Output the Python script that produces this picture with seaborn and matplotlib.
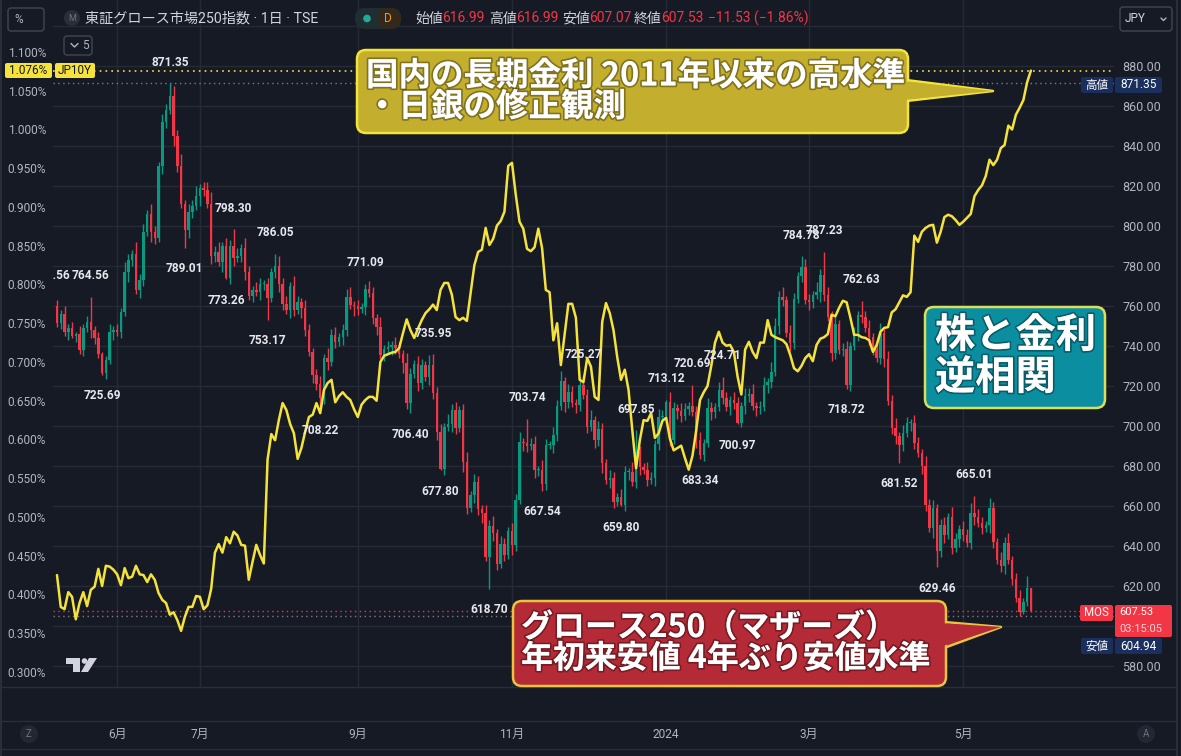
import numpy as np
import pandas as pd
import matplotlib
matplotlib.use("Agg")
import matplotlib.pyplot as plt
import matplotlib.patheffects as pe
import matplotlib.transforms as mtransforms
from matplotlib.patches import FancyBboxPatch, Polygon, Circle
from matplotlib.ticker import StrMethodFormatter, FuncFormatter
import seaborn as sns

W, H = 1181, 756
BG = "#161a25"
GRID = "#262a35"
LINE = "#2a2e39"
TXT = "#b2b5be"
UP = "#089981"
DOWN = "#f23645"
YEL = "#f5e33b"
NAVY = "#1b2f5e"

# ---- data: TSE Growth 250 daily closes ----
jp_holidays = ["2023-07-17", "2023-08-11", "2023-09-18", "2023-10-09", "2023-11-03",
               "2023-11-23", "2024-01-01", "2024-01-02", "2024-01-03", "2024-01-08",
               "2024-02-12", "2024-02-23", "2024-03-20", "2024-04-29", "2024-05-03",
               "2024-05-06"]
first_open = 760.0
close_2305 = [751.7, 756, 747, 749, 745, 746, 738, 749, 752, 748, 744, 736, 726.5, 733, 747, 748]
close_2306 = [747, 757, 777, 783, 786, 768, 773, 797, 806, 797, 794, 830, 852, 858, 865, 845,
              830, 811, 798, 807, 810, 815]
close_2307 = [819, 818, 811, 785, 787, 782, 790, 774, 790, 784, 785, 789, 777, 765, 768, 767,
              771, 771, 764, 777]
close_2308 = [780, 771, 761, 758, 770, 758, 762, 759, 748, 737, 725.5, 721, 714, 734, 732, 745.5,
              742, 744.5, 748, 764.7, 760.5, 760]
close_2309 = [758.3, 759.3, 768.3, 766.3, 753.8, 749.3, 735.5, 738.5, 739.5, 740.5, 739, 736,
              731.3, 711.3, 726, 731, 721.3, 730.5, 724.3, 730.3]
close_2310 = [716.3, 697.2, 678.5, 699.7, 700.8, 708, 698.8, 708, 682.2, 658.8, 665.5, 672.2,
              658.3, 656.3, 634.3, 650, 646.3, 631, 641, 635.5, 647.7]
close_2311 = [640.5, 663, 692.2, 691.5, 690, 691, 678, 678, 671, 690.5, 690.5, 695.5, 710,
              722.7, 712.2, 717, 711.3, 710.5, 720.5, 715.5]
close_2312 = [699.7, 703, 693, 698.3, 681.3, 673, 673.8, 662.2, 664.3, 660.5, 677, 677, 672,
              687, 679.7, 678, 673, 673.8, 691, 704.3, 705]
close_2401 = [712.2, 693, 708.8, 707.7, 705, 708.3, 710, 707.2, 693, 685.7, 691.3, 708.8, 707.2,
              709.3, 718, 713.8, 709.7, 712.8, 711.3]
close_2402 = [701.3, 710, 715, 716, 710, 709, 709.5, 720.5, 722, 727, 750, 764.7, 763, 746.3,
              741.3, 763.3, 775, 779.7, 763]
close_2403 = [762.2, 765.5, 767.2, 775.5, 765.5, 754.7, 736.3, 751, 738, 738.5, 720.5, 740,
              746.3, 755.5, 754.7, 748.8, 744.3, 738.3, 733.8, 746.3]
close_2404 = [733.3, 712.7, 699, 695, 690.5, 696.7, 701.3, 701.3, 691.5, 686.3, 680, 660.5,
              648.8, 658.8, 637.7, 650.5, 645.5, 654.7, 638.8, 643.3, 648.3]
close_2405 = [645.5, 641.7, 656.3, 654.3, 651.3, 649, 650.5, 658.8, 642.2, 633, 630.2, 641.3,
              633, 623.3, 613.8, 607, 612, 619.06, 607.53]

# wick lengths above / below the body
wick_up = [3, 2, 4, 2, 3, 1, 4, 2, 3, 0, 2, 3, 1, 2, 4, 2, 3, 2, 5, 3,
           2, 6, 3, 4, 2, 5, 3, 2, 4, 3, 0, 5, 3, 6, 2, 4, 3, 5, 2, 3,
           4, 6, 3, 5, 2, 4, 3, 0, 4, 2, 5, 3, 2, 4, 3, 2, 3, 2, 0, 5,
           3, 4, 2, 5, 3, 2, 4, 3, 2, 3, 4, 2, 5, 3, 4, 2, 3, 4, 5, 2,
           3, 2, 0, 4, 3, 2, 5, 2, 3, 2, 4, 3, 2, 5, 3, 2, 4, 3, 2, 5,
           0, 3, 4, 2, 5, 3, 4, 2, 3, 5, 2, 4, 3, 2, 4, 3, 5, 2, 4, 3,
           2, 4, 3, 5, 2, 0, 3, 4, 2, 5, 3, 2, 4, 3, 5, 2, 4, 3, 2, 4,
           0, 3, 5, 2, 4, 3, 2, 4, 3, 2, 4, 3, 2, 5, 0, 3, 2, 4, 3, 2,
           4, 3, 0, 5, 3, 2, 4, 3, 2, 0, 3, 4, 2, 5, 3, 2, 4, 0, 3, 2,
           4, 3, 2, 4, 3, 5, 2, 3, 4, 2, 5, 4, 3, 5, 2, 4, 3, 2, 0, 4,
           3, 2, 5, 3, 0, 4, 3, 5, 2, 3, 4, 2, 3, 2, 0, 3, 4, 2, 3, 5,
           2, 4, 3, 5, 2, 4, 3, 2, 4, 3, 2, 5, 3, 4, 2, 3, 4, 2, 5, 3,
           2, 4, 3, 5, 0, 4, 3, 2, 5, 3, 2, 4, 3, 5, 2, 3, 4, 2, 6, 0]
wick_dn = [2, 3, 2, 4, 1, 3, 2, 3, 2, 4, 3, 2, 0, 3, 2, 4, 2, 3, 2, 5,
           3, 2, 4, 3, 2, 5, 3, 2, 4, 3, 2, 5, 3, 2, 0, 4, 3, 2, 5, 3,
           2, 4, 3, 2, 5, 0, 3, 4, 2, 3, 4, 2, 3, 2, 4, 3, 0, 2, 3, 4,
           3, 2, 4, 3, 2, 5, 3, 2, 4, 3, 0, 3, 4, 2, 3, 2, 4, 3, 2, 5,
           3, 2, 4, 2, 3, 4, 2, 3, 2, 4, 3, 2, 5, 3, 0, 2, 4, 3, 2, 4,
           3, 4, 0, 3, 2, 4, 3, 2, 5, 3, 2, 4, 3, 5, 2, 0, 4, 3, 2, 3,
           2, 5, 3, 2, 4, 3, 2, 4, 3, 0, 3, 2, 4, 3, 2, 5, 3, 2, 4, 3,
           2, 3, 2, 4, 3, 5, 2, 4, 3, 2, 0, 3, 4, 2, 3, 4, 2, 3, 2, 4,
           3, 2, 4, 3, 2, 4, 3, 2, 3, 2, 4, 0, 3, 2, 4, 3, 2, 3, 2, 4,
           3, 0, 2, 4, 3, 2, 4, 3, 2, 4, 3, 2, 4, 3, 2, 4, 3, 2, 3, 2,
           4, 3, 2, 5, 3, 2, 4, 3, 2, 3, 0, 3, 2, 4, 3, 2, 4, 3, 2, 3,
           4, 2, 3, 4, 0, 3, 2, 4, 3, 2, 4, 3, 2, 5, 0, 3, 4, 2, 3, 2,
           4, 3, 2, 3, 4, 2, 3, 2, 4, 3, 2, 3, 4, 2, 3, 2, 2.06, 1, 2, 0.46]

# high / low pivot labels shown on the chart (index, value, kind)
pivot_idx = [-1.4, 9, 12, 30, 34, 45, 47, 56, 58, 70, 82, 94, 100, 102, 115, 125, 129, 140,
             150, 154, 162, 169, 171, 177, 181, 198, 204, 210, 214, 224, 234, 244]
pivot_val = [764.56, 764.56, 725.69, 871.35, 789.01, 773.26, 798.30, 753.17, 786.05, 708.22,
             771.09, 706.40, 735.95, 677.80, 618.70, 703.74, 667.54, 725.27, 659.80, 697.85,
             713.12, 720.69, 683.34, 724.71, 700.97, 784.78, 787.23, 718.72, 762.63, 681.52,
             629.46, 665.01]
pivot_kind = ["H", "H", "L", "H", "L", "L", "H", "L", "H", "L", "H", "L", "H", "L", "L", "H",
              "L", "H", "L", "H", "H", "H", "L", "H", "L", "H", "H", "L", "H", "L", "L", "H"]

# JP10Y yield, %
jp10y_2305 = [.425, .384, .381, .403, .397, .368, .389, .403, .385, .406, .410, .433, .411, .437, .436, .432]
jp10y_2306 = [.426, .412, .434, .421, .423, .437, .426, .425, .416, .426, .419, .402, .393, .389,
              .374, .377, .367, .353, .371, .384, .384, .398]
jp10y_2307 = [.397, .381, .386, .407, .454, .465, .454, .474, .466, .481, .476, .464, .463, .419,
              .442, .464, .451, .440, .574, .607]
jp10y_2308 = [.599, .625, .647, .638, .620, .608, .575, .589, .610, .629, .632, .647, .634, .664,
              .673, .677, .648, .656, .661, .655, .651, .639]
jp10y_2309 = [.629, .645, .651, .655, .655, .650, .700, .708, .710, .712, .713, .718, .737, .755,
              .741, .731, .743, .754, .763, .768]
jp10y_2310 = [.774, .767, .793, .802, .802, .787, .758, .754, .757, .753, .789, .825, .842, .845,
              .873, .851, .859, .876, .882, .894, .953]
jp10y_2311 = [.957, .916, .881, .872, .846, .843, .848, .872, .847, .793, .790, .728, .750, .696,
              .735, .775, .775, .757, .677, .674]
jp10y_2312 = [.705, .694, .655, .651, .752, .776, .763, .741, .706, .677, .690, .664, .612, .563,
              .599, .625, .624, .634, .602, .608, .624]
jp10y_2401 = [.628, .601, .586, .589, .592, .576, .561, .579, .612, .651, .661, .669, .695, .725,
              .739, .725, .721, .722, .713]
jp10y_2402 = [.681, .658, .716, .726, .713, .705, .725, .725, .754, .735, .732, .730, .728, .723,
              .709, .692, .688, .695, .705]
jp10y_2403 = [.710, .701, .722, .730, .732, .736, .761, .759, .770, .779, .777, .757, .735, .735,
              .732, .731, .728, .713, .722, .739]
jp10y_2404 = [.744, .745, .764, .768, .777, .786, .784, .790, .863, .855, .868, .873, .876, .877,
              .854, .868, .887, .890, .888, .883, .877]
jp10y_2405 = [.881, .886, .891, .914, .922, .928, .940, .961, .954, .961, .976, .980, 1.005, 1.000,
              1.019, 1.028, 1.038, 1.061, 1.076]

label_months = [6, 7, 9, 11, 1, 3, 5]

# ---- assemble ----
close = np.array(close_2305 + close_2306 + close_2307 + close_2308 + close_2309 + close_2310
                 + close_2311 + close_2312 + close_2401 + close_2402 + close_2403 + close_2404
                 + close_2405, dtype=float)
jp10y = np.array(jp10y_2305 + jp10y_2306 + jp10y_2307 + jp10y_2308 + jp10y_2309 + jp10y_2310
                 + jp10y_2311 + jp10y_2312 + jp10y_2401 + jp10y_2402 + jp10y_2403 + jp10y_2404
                 + jp10y_2405, dtype=float)
n = len(close)
idx = np.arange(n)
dates = pd.bdate_range("2023-05-10", "2024-06-30", freq="C", holidays=jp_holidays)[:n]
opens = np.r_[first_open, close[:-1]]
highs = np.maximum(opens, close) + np.array(wick_up, dtype=float)
lows = np.minimum(opens, close) - np.array(wick_dn, dtype=float)
for i, v, k in zip(pivot_idx, pivot_val, pivot_kind):
    if 0 <= i < n:
        if k == "H":
            highs[int(i)] = v
        else:
            lows[int(i)] = v

# ---- style ----
sns.set_theme(style="dark", rc={"axes.facecolor": BG, "figure.facecolor": BG,
                                "axes.edgecolor": BG, "savefig.facecolor": BG})
plt.rcParams["font.family"] = ["Roboto", "Noto Sans CJK JP", "DejaVu Sans"]

fig = plt.figure(figsize=(W / 100, H / 100), dpi=100)


def px_rect(x0, y0, x1, y1):
    return [x0 / W, 1 - y1 / H, (x1 - x0) / W, (y1 - y0) / H]


ax = fig.add_axes(px_rect(53, 0, 1114, 687))
ax.set_facecolor(BG)
for s in ax.spines.values():
    s.set_visible(False)

# candles
cols = np.where(close >= opens, UP, DOWN)
ax.vlines(idx, lows, highs, colors=cols, lw=1, zorder=2)
body = np.maximum(np.abs(close - opens), 0.5)
ax.bar(idx, body, bottom=np.minimum(opens, close), width=0.66, color=cols, linewidth=0, zorder=3)

ax.set_xlim(-1.06, 281.1)
ax.set_ylim(569.5, 913)
ax.set_yticks(np.arange(580, 901, 20))
# the 900 and 600 labels sit under the currency box / last-price badge
ax.yaxis.set_major_formatter(FuncFormatter(lambda v, _: "" if v > 890 or abs(v - 600) < 1 else f"{v:.2f}"))

month_first = np.r_[False, dates.month[1:] != dates.month[:-1]]
tick_pos = [i for i in idx if month_first[i] and dates[i].month in label_months]
tick_lab = [str(dates[i].year) if dates[i].month == 1 else f"{dates[i].month}月" for i in tick_pos]
ax.set_xticks(tick_pos)
ax.tick_params(axis="x", length=0, labelbottom=False)
ax.grid(True, color=GRID, lw=1)
ax.set_axisbelow(True)

# dotted price lines
dot = (0, (1, 2.5))
ax.axhline(highs.max(), color="#7a7d88", ls=dot, lw=1, zorder=1)
ax.axhline(lows.min(), color="#7a7d88", ls=dot, lw=1, zorder=1)
ax.axhline(close[-1], color=DOWN, ls=dot, lw=1, zorder=1)

# yield line
axy = ax.twinx()
sns.lineplot(x=idx, y=jp10y, ax=axy, color=YEL, lw=1.8, legend=False, zorder=4)
axy.set_ylim(0.2806, 1.1671)
axy.set_yticks(np.arange(0.30, 1.1001, 0.05))
axy.yaxis.set_major_formatter(StrMethodFormatter("{x:.3f}%"))
axy.axhline(jp10y[-1], color=YEL, ls=dot, lw=1.2)
axy.grid(False)
axy.set_xlabel("")
axy.set_ylabel("")
for s in axy.spines.values():
    s.set_visible(False)

ax.yaxis.tick_right()
axy.yaxis.tick_left()
ax.tick_params(axis="y", length=0, pad=6, labelsize=9, labelcolor=TXT, labelright=True, labelleft=False)
axy.tick_params(axis="y", length=0, pad=5, labelsize=8.6, labelcolor=TXT, labelleft=True, labelright=False)

# pivot labels
for i, v, k in zip(pivot_idx, pivot_val, pivot_kind):
    off = 21 if k == "H" else -21
    axy.annotate(f"{v:.2f}", xy=(i, v), xycoords=ax.transData, xytext=(0, off),
                 textcoords="offset pixels", ha="center", va="center", color="#e6e8ee",
                 fontsize=8.6, fontweight="semibold", zorder=6, clip_on=True,
                 annotation_clip=False)

# ---- overlay in pixel coordinates ----
ov = fig.add_axes([0, 0, 1, 1], zorder=10)
ov.set_xlim(0, W)
ov.set_ylim(H, 0)
ov.axis("off")
ov.patch.set_visible(False)


def rbox(x0, y0, x1, y1, fc, ec="none", lw=0, r=3, z=1):
    p = FancyBboxPatch((x0, y0), x1 - x0, y1 - y0, boxstyle=f"round,pad=0,rounding_size={r}",
                       fc=fc, ec=ec, lw=lw, zorder=z)
    ov.add_patch(p)


# frame lines
ov.hlines([687, 721, 749], 0, 1177, color=LINE, lw=1)
ov.vlines([1177], 0, H, color=LINE, lw=1.5)
ov.vlines([1], 0, H, color=LINE, lw=1.5)

# time axis
tx = mtransforms.blended_transform_factory(ax.transData, ov.transData)
for p, lab in zip(tick_pos, tick_lab):
    ov.text(p, 734, lab, transform=tx, ha="center", va="center", color=TXT, fontsize=8.6)
for cx, ch in [(29, "Z"), (1146, "A")]:
    ov.add_patch(Circle((cx, 734), 9, fc="#232733", ec="none"))
    ov.text(cx, 734, ch, ha="center", va="center", color="#6f7380", fontsize=7)

# header
rbox(8, 8, 44, 31, BG, "#434651", 1, 3)
ov.text(14, 19.5, "%", ha="left", va="center", color=TXT, fontsize=8.5)
ov.add_patch(Circle((72, 18), 8, fc="#2a2e39", ec="none"))
ov.text(72, 18.5, "M", ha="center", va="center", color="#6f7380", fontsize=6.5)
ov.text(85, 18, "東証グロース市場250指数 · 1日 · TSE", ha="left", va="center",
        color="#d1d4dc", fontsize=10.2)
rbox(355, 8, 401, 29, "#1f2e30", r=10)
rbox(377, 8, 401, 29, "#33281c", r=10)
ov.add_patch(Circle((367, 18.5), 3.8, fc="#22ab94", ec="none"))
ov.text(388, 18.5, "D", ha="center", va="center", color="#ff9800", fontsize=8.5)
ohlc = [(415, "始値", "616.99"), (489, "高値", "616.99"), (562, "安値", "607.07"),
        (634, "終値", "607.53")]
for x0, k, v in ohlc:
    ov.text(x0, 18.5, k, ha="left", va="center", color="#d1d4dc", fontsize=10)
    ov.text(x0 + 27, 18.5, v, ha="left", va="center", color=DOWN, fontsize=10)
ov.text(708, 18.5, "−11.53 (−1.86%)", ha="left", va="center", color=DOWN, fontsize=10)
rbox(64, 36, 92, 55, BG, "#434651", 1, 3)
ov.plot([71, 74.5, 78], [43.5, 47, 43.5], color=TXT, lw=1)
ov.text(82, 45.5, "5", ha="left", va="center", color=TXT, fontsize=8.5)
rbox(1120, 7, 1172, 31, BG, "#434651", 1, 3)
ov.text(1125, 19, "JPY", ha="left", va="center", color="#d1d4dc", fontsize=8.5)
ov.plot([1161, 1163.5, 1166], [18, 20.5, 18], color=TXT, lw=1)

# price badges
rbox(5, 63, 52, 78, YEL, r=2)
ov.text(28.5, 70.8, f"{jp10y[-1]:.3f}%", ha="center", va="center", color="#131722", fontsize=8.5)
rbox(55, 63, 95, 78, YEL, r=2)
ov.text(75, 70.8, "JP10Y", ha="center", va="center", color="#131722", fontsize=8.5)
rbox(1081, 77, 1113, 93, NAVY, r=2)
ov.text(1097, 85, "高値", ha="center", va="center", color="white", fontsize=8.3)
rbox(1115, 77, 1162, 93, NAVY, r=2)
ov.text(1138.5, 85, f"{highs.max():.2f}", ha="center", va="center", color="white", fontsize=8.5)
rbox(1080, 605, 1113, 621, DOWN, r=2)
ov.text(1096.5, 613, "MOS", ha="center", va="center", color="white", fontsize=8.3)
rbox(1115, 605, 1172, 637, DOWN, r=2)
ov.text(1119, 612, f"{close[-1]:.2f}", ha="left", va="center", color="white", fontsize=8)
ov.text(1119, 629.5, "03:15:05", ha="left", va="center", color="#ffd6da", fontsize=8)
rbox(1081, 638, 1113, 654, NAVY, r=2)
ov.text(1097, 646, "安値", ha="center", va="center", color="white", fontsize=8.3)
rbox(1115, 638, 1162, 654, NAVY, r=2)
ov.text(1138.5, 646, f"{lows.min():.2f}", ha="center", va="center", color="white", fontsize=8.5)

# TradingView logo
ov.add_patch(Polygon([(66, 658), (80, 658), (80, 672), (73, 672), (73, 664), (66, 664)],
                     closed=True, fc="#d1d4dc", ec="none"))
ov.add_patch(Circle((84.5, 661), 2.8, fc="#d1d4dc", ec="none"))
ov.add_patch(Polygon([(89, 658), (97, 658), (88, 672), (81, 672)], closed=True,
                     fc="#d1d4dc", ec="none"))

# callouts
stroke = [pe.withStroke(linewidth=2.5, foreground="#00000055")]


def callout(x0, y0, x1, y1, fc, ec, tail=None):
    if tail is not None:
        ov.add_patch(Polygon(tail, closed=True, fc=fc, ec=ec, lw=1.8, zorder=3, joinstyle="round"))
    rbox(x0, y0, x1, y1, fc, ec, 1.8, 9, z=4)
    if tail is not None:
        inner = [(tail[0][0] - 4, tail[0][1] + 1), tail[1], (tail[2][0] - 4, tail[2][1] - 1)]
        ov.add_patch(Polygon(inner, closed=True, fc=fc, ec="none", zorder=5))


callout(357, 50, 908, 133, "#c3ae2e", "#f3e43c", [(906, 80), (993, 91), (906, 101)])
ov.text(366, 76, "国内の長期金利 2011年以来の高水準", ha="left", va="center", color="white",
        fontsize=23.4, fontweight="bold", family=["Noto Sans CJK JP"], path_effects=stroke, zorder=6)
ov.text(366, 107, "・日銀の修正観測", ha="left", va="center", color="white",
        fontsize=23.4, fontweight="bold", family=["Noto Sans CJK JP"], path_effects=stroke, zorder=6)

callout(925, 307, 1105, 408, "#0b8ea0", "#d9df5a")
ov.text(935, 336, "株と金利", ha="left", va="center", color="white", fontsize=29,
        fontweight="bold", family=["Noto Sans CJK JP"], path_effects=stroke, zorder=6)
ov.text(935, 378, "逆相関", ha="left", va="center", color="white", fontsize=29,
        fontweight="bold", family=["Noto Sans CJK JP"], path_effects=stroke, zorder=6)

callout(513, 601, 946, 686, "#b52a37", "#e9c43c", [(944, 622), (1001, 627), (944, 648)])
ov.text(521, 628, "グロース250（マザーズ）", ha="left", va="center", color="white",
        fontsize=23, fontweight="bold", family=["Noto Sans CJK JP"], path_effects=stroke, zorder=6)
ov.text(521, 659, "年初来安値 4年ぶり安値水準", ha="left", va="center", color="white",
        fontsize=23, fontweight="bold", family=["Noto Sans CJK JP"], path_effects=stroke, zorder=6)

fig.savefig("out.png", dpi=100, facecolor=BG)
